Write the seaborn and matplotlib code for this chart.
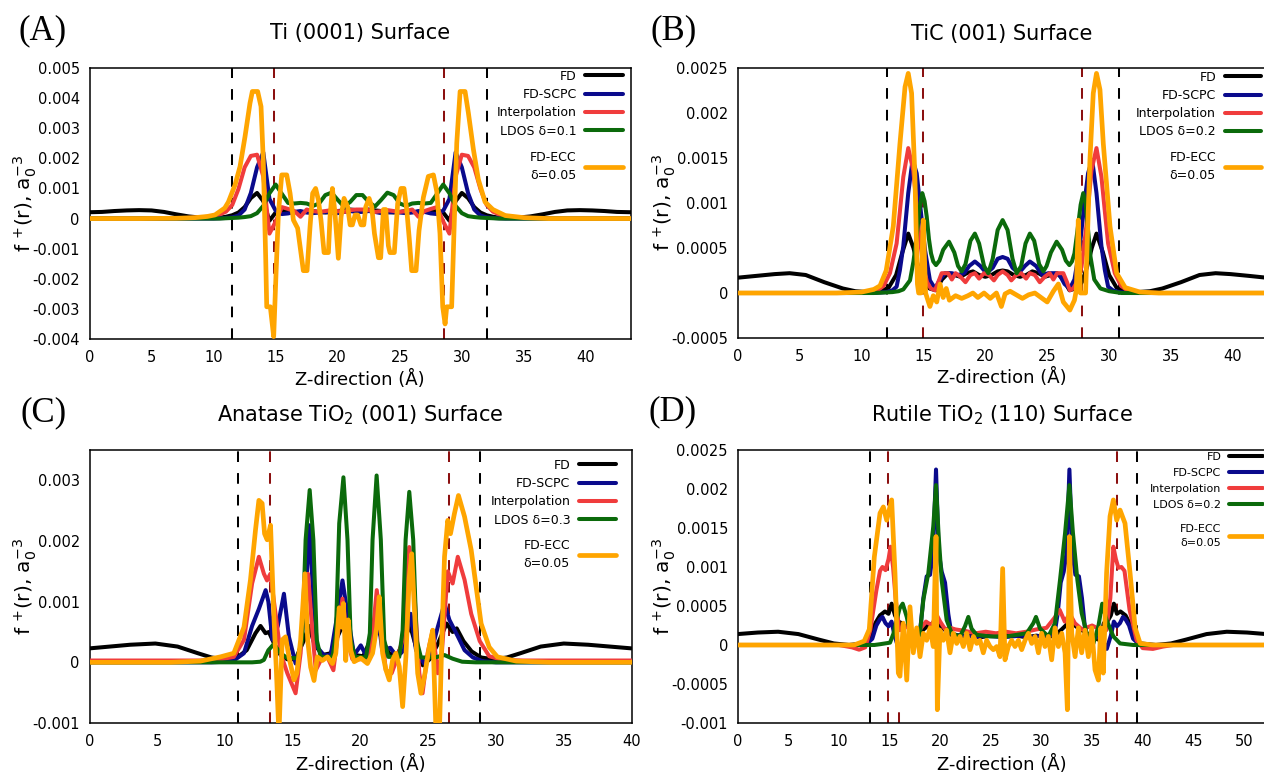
import numpy as np
import matplotlib
matplotlib.use("Agg")
import matplotlib.pyplot as plt
import seaborn as sns
from matplotlib.ticker import FuncFormatter

# ===================== DATA (values in units of 1e-3 a0^-3) =====================
SERIES_NAMES = ["FD", "FD-SCPC", "Interpolation", "LDOS", "FD-ECC"]
ECC_LABEL = "FD-ECC\nδ=0.05"

# ---------- Panel A: Ti (0001) ----------
A_title = "Ti (0001) Surface"
A_ldos_label = "LDOS δ=0.1"
A_grid_z = [0, 1, 2, 3, 4, 5, 6, 7, 8, 9, 9.5,
            10, 10.5, 11, 11.5, 12, 12.5, 13, 13.5, 14, 14.5,
            15, 15.5, 16, 16.5, 17, 17.5, 18, 18.5, 19, 19.5,
            20, 20.5, 21, 21.5, 22, 22.5, 23, 23.5, 24, 24.5,
            25, 25.5, 26, 26.5, 27, 27.5, 28, 28.5, 29, 29.5,
            30, 30.5, 31, 31.5, 32, 32.5, 33, 33.5,
            34, 34.5, 35.5, 36.5, 37.5, 38.5, 39.5, 40.5, 41.5, 42.5, 43.63]
A_fd = [0.21, 0.22, 0.25, 0.27, 0.28, 0.27, 0.22, 0.14, 0.07, 0.03, 0.02,
        0.02, 0.03, 0.06, 0.11, 0.20, 0.38, 0.68, 0.85, 0.58, -0.07,
        0.20, 0.28, 0.26, 0.22, 0.20, 0.22, 0.25, 0.22, 0.20, 0.22,
        0.25, 0.27, 0.30, 0.28, 0.28, 0.30, 0.27, 0.25, 0.22, 0.20,
        0.22, 0.25, 0.22, 0.20, 0.22, 0.26, 0.28, 0.20, -0.07, 0.58,
        0.85, 0.68, 0.38, 0.20, 0.11, 0.06, 0.03, 0.02,
        0.02, 0.03, 0.07, 0.14, 0.22, 0.27, 0.28, 0.27, 0.25, 0.22, 0.21]
A_scpc = [0, 0, 0, 0, 0, 0, 0, 0, 0, 0, 0,
          0.00, 0.01, 0.02, 0.04, 0.10, 0.30, 0.85, 1.70, 2.20, 0.65,
          0.26, 0.15, 0.17, 0.22, 0.25, 0.20, 0.18, 0.20, 0.22, 0.20,
          0.18, 0.22, 0.25, 0.22, 0.22, 0.25, 0.22, 0.18, 0.20, 0.22,
          0.20, 0.18, 0.20, 0.25, 0.22, 0.17, 0.15, 0.26, 0.65, 2.20,
          1.70, 0.85, 0.30, 0.10, 0.04, 0.02, 0.01, 0.00,
          0, 0, 0, 0, 0, 0, 0, 0, 0, 0, 0]
A_interp = [0, 0, 0, 0, 0, 0, 0, 0.01, 0.02, 0.04, 0.06,
            0.09, 0.14, 0.23, 0.45, 0.98, 1.70, 2.08, 2.12, 1.40, -0.50,
            -0.10, 0.38, 0.32, 0.25, 0.06, 0.30, 0.25, 0.22, 0.25, 0.28,
            0.25, 0.22, 0.28, 0.30, 0.30, 0.28, 0.22, 0.25, 0.28, 0.25,
            0.22, 0.25, 0.30, 0.06, 0.25, 0.32, 0.38, -0.10, -0.50, 1.40,
            2.12, 2.08, 1.70, 0.98, 0.45, 0.23, 0.14, 0.09,
            0.06, 0.04, 0.02, 0.01, 0, 0, 0, 0, 0, 0, 0]
A_ldos = [0, 0, 0, 0, 0, 0, 0, 0, 0, 0, 0,
          0.00, 0.00, 0.01, 0.02, 0.03, 0.05, 0.08, 0.18, 0.42, 0.84,
          1.13, 0.82, 0.52, 0.50, 0.52, 0.50, 0.42, 0.50, 0.78, 0.86,
          0.62, 0.40, 0.55, 0.78, 0.78, 0.55, 0.40, 0.62, 0.86, 0.78,
          0.50, 0.42, 0.50, 0.52, 0.50, 0.52, 0.82, 1.13, 0.84, 0.42,
          0.18, 0.08, 0.05, 0.03, 0.02, 0.01, 0.00, 0.00,
          0, 0, 0, 0, 0, 0, 0, 0, 0, 0, 0]
A_ecc_z = [0, 4, 7, 8.5, 9.5, 10.11, 10.9, 11.19, 11.73, 12.13, 12.53, 12.93, 13.12, 13.55, 13.82,
           14.0, 14.2, 14.28, 14.57, 14.84, 15.03, 15.22, 15.49, 15.89, 16.16, 16.43, 16.77, 17.04,
           17.23, 17.53, 17.77, 17.98, 18.22, 18.44, 18.65, 18.9, 19.25, 19.38, 19.57, 19.78, 20.05,
           20.27, 20.51, 20.8, 21.0, 21.18, 21.4, 21.61, 21.88, 22.1, 22.26, 22.53, 22.74, 22.96,
           23.28, 23.46, 23.68, 23.87, 24.08, 24.21, 24.56, 24.83, 25.1, 25.34, 25.56, 25.77, 25.96,
           26.31, 26.55, 26.9, 27.3, 27.71, 27.98, 28.24, 28.46, 28.65, 28.78, 29.18, 29.4, 29.59,
           29.86, 30.26, 30.53, 30.93, 31.33, 31.87, 32.5, 33.5, 35, 37, 43.63]
A_ecc_v = [0, 0.0, 0.01, 0.03, 0.07, 0.12, 0.35, 0.55, 1.12, 1.73, 2.72, 3.83, 4.22, 4.22, 3.72,
           1.95, -1.37, -2.93, -2.93, -3.92, -1.82, 0.17, 1.45, 1.45, 0.84, -0.05, -0.32, -1.15,
           -1.73, -1.73, -0.27, 0.84, 1.0, 0.62, -0.05, -1.13, -1.13, 0.06, 1.0, 0.17, -1.32,
           0.06, 0.67, 0.39, -0.21, -0.21, 0.12, 0.12, -0.21, -0.21, 0.39, 0.67, 0.39, -0.5,
           -1.3, -1.3, 0.3, 0.3, -0.9, -1.13, -1.13, 0.5, 1.0, 1.0, 0.3, -0.7, -1.73,
           -1.73, -0.4, 0.7, 1.4, 1.45, 0.9, -0.5, -2.93, -3.5, -2.93, -2.93, 0.0, 2.5,
           4.22, 4.22, 3.5, 2.3, 1.3, 0.55, 0.3, 0.1, 0.03, 0.0, 0.0]
A_dash_black = [11.5, 32.05]
A_dash_red = [14.87, 28.57]

# ---------- Panel B: TiC (001) ----------
B_title = "TiC (001) Surface"
B_ldos_label = "LDOS δ=0.2"
B_fd_z = [0, 1.5, 3, 4.2, 5.5, 7, 8.5, 9.5, 10.5, 11.5, 12.2, 12.8, 13.3, 13.78, 14.2, 14.6, 15.0,
          15.5, 16.0, 16.5, 17.0, 17.5, 18.0, 18.5, 19.0, 19.5, 20.0, 20.5, 21.0, 21.4, 21.8, 22.3,
          22.8, 23.3, 23.8, 24.3, 24.8, 25.3, 25.8, 26.3, 26.8, 27.3, 27.8, 28.2, 28.6, 28.98, 29.5,
          30.0, 30.6, 31.3, 32.3, 33.3, 34.3, 35.8, 37.3, 38.6, 39.8, 41.3, 42.7]
B_fd_v = [0.17, 0.19, 0.21, 0.22, 0.2, 0.12, 0.05, 0.02, 0.01, 0.02, 0.06, 0.2, 0.45, 0.66, 0.5, 0.28, 0.12,
          0.05, 0.03, 0.15, 0.22, 0.2, 0.18, 0.22, 0.24, 0.2, 0.18, 0.2, 0.24, 0.25, 0.24, 0.2,
          0.18, 0.2, 0.24, 0.22, 0.18, 0.2, 0.22, 0.15, 0.03, 0.05, 0.12, 0.28, 0.5, 0.66, 0.45,
          0.2, 0.06, 0.02, 0.01, 0.02, 0.05, 0.12, 0.2, 0.22, 0.21, 0.19, 0.17]
B_scpc_z = [0, 11, 12.0, 12.5, 12.84, 13.1, 13.38, 13.78, 14.13, 14.46, 14.73, 15.13, 15.53, 15.94, 16.35,
            16.74, 17.3, 17.8, 18.3, 18.7, 19.16, 19.6, 20.1, 20.6, 21.0, 21.4, 21.8, 22.2, 22.7, 23.2,
            23.6, 24.1, 24.6, 25.1, 25.6, 26.0, 26.4, 26.83, 27.2, 27.6, 28.0, 28.3, 28.63, 28.98,
            29.38, 29.66, 29.92, 30.3, 30.8, 31.8, 42.7]
B_scpc_v = [0, 0.0, 0.01, 0.03, 0.07, 0.25, 0.52, 1.11, 1.48, 1.33, 0.99, 0.48, 0.14, 0.05, 0.15,
            0.22, 0.22, 0.2, 0.22, 0.3, 0.35, 0.3, 0.22, 0.28, 0.38, 0.4, 0.38, 0.28, 0.22, 0.3,
            0.35, 0.3, 0.2, 0.22, 0.22, 0.2, 0.1, 0.05, 0.15, 0.48, 0.99, 1.33, 1.48, 1.11,
            0.52, 0.25, 0.07, 0.03, 0.01, 0.0, 0]
B_interp_z = [0, 9, 10.5, 11.3, 11.8, 12.3, 12.84, 13.1, 13.38, 13.78, 14.19, 14.6, 14.99, 15.3, 15.6,
              15.94, 16.2, 16.48, 17.0, 17.3, 17.6, 18.0, 18.4, 18.8, 19.16, 19.5, 19.9, 20.3, 20.7,
              21.0, 21.4, 21.8, 22.1, 22.5, 22.9, 23.3, 23.6, 24.0, 24.4, 24.8, 25.2, 25.5, 25.8,
              26.3, 26.6, 26.83, 27.1, 27.4, 27.77, 28.16, 28.57, 28.98, 29.38, 29.66, 29.92, 30.46,
              30.96, 31.46, 32.3, 34, 42.7]
B_interp_v = [0, 0.0, 0.01, 0.03, 0.08, 0.22, 0.55, 0.9, 1.29, 1.61, 1.36, 0.74, 0.29, 0.12, 0.05,
              0.03, 0.12, 0.22, 0.22, 0.15, 0.22, 0.18, 0.12, 0.2, 0.22, 0.16, 0.22, 0.2, 0.14,
              0.2, 0.24, 0.2, 0.14, 0.2, 0.22, 0.16, 0.22, 0.2, 0.12, 0.18, 0.22, 0.15, 0.22,
              0.22, 0.12, 0.03, 0.05, 0.12, 0.29, 0.74, 1.36, 1.61, 1.29, 0.9, 0.55, 0.22,
              0.08, 0.03, 0.01, 0.0, 0]
B_ldos_z = [0, 11, 12.5, 13.0, 13.38, 13.92, 14.2, 14.46, 14.7, 14.91, 15.1, 15.27, 15.45, 15.62, 15.8,
            16.02, 16.3, 16.6, 17.07, 17.5, 17.8, 18.09, 18.4, 18.8, 19.16, 19.5, 19.9, 20.24, 20.6,
            21.0, 21.4, 21.8, 22.2, 22.53, 22.9, 23.25, 23.6, 23.95, 24.35, 24.69, 24.95, 25.3,
            25.76, 26.2, 26.5, 26.79, 27.0, 27.2, 27.45, 27.7, 27.91, 28.1, 28.3, 28.5, 28.8, 29.3,
            30, 31, 42.7]
B_ldos_v = [0, 0.0, 0.01, 0.02, 0.04, 0.14, 0.35, 0.63, 0.95, 1.11, 1.02, 0.85, 0.6, 0.44, 0.35,
            0.31, 0.36, 0.48, 0.57, 0.45, 0.3, 0.24, 0.32, 0.58, 0.66, 0.55, 0.3, 0.22, 0.38,
            0.7, 0.81, 0.7, 0.38, 0.22, 0.3, 0.55, 0.66, 0.58, 0.32, 0.24, 0.3, 0.45,
            0.57, 0.48, 0.36, 0.31, 0.35, 0.44, 0.7, 0.98, 1.11, 1.0, 0.7, 0.4, 0.15, 0.05,
            0.02, 0.0, 0]
B_ecc_z = [0, 8, 10.0, 11.0, 11.5, 12.0, 12.57, 13.11, 13.52, 13.78, 14.05, 14.32, 14.52, 14.62, 14.8,
           14.99, 15.18, 15.53, 15.8, 16.08, 16.35, 16.6, 16.85, 17.1, 17.6, 18.1, 18.6, 19.0, 19.4,
           19.9, 20.4, 20.9, 21.3, 21.6, 22.0, 22.5, 23.0, 23.5, 24.0, 24.5, 25.0, 25.5, 25.9, 26.3,
           26.83, 27.2, 27.35, 27.51, 27.68, 28.1, 28.45, 28.72, 28.98, 29.26, 29.53, 30.07, 30.61,
           31.3, 32.5, 34, 42.7]
B_ecc_v = [0, 0.0, 0.01, 0.04, 0.08, 0.25, 0.74, 1.66, 2.29, 2.44, 2.22, 1.29, 0.1, 0.0, 0.0,
           0.81, 0.0, -0.15, -0.03, -0.1, 0.1, -0.05, 0.05, -0.08, -0.03, -0.06, -0.03, 0.0, -0.05,
           0.0, -0.06, 0.0, -0.15, -0.01, 0.02, -0.02, -0.06, -0.02, 0.0, -0.05, -0.1, 0.02, 0.1, -0.1,
           -0.19, -0.08, 0.03, 0.81, 0.0, 0.0, 1.48, 2.22, 2.44, 2.26, 1.66, 0.74, 0.22,
           0.06, 0.01, 0.0, 0.0]
B_dash_black = [12.04, 30.8]
B_dash_red = [14.99, 27.83]

# ---------- Panel C: Anatase TiO2 (001) ----------
C_title = "Anatase TiO$_2$ (001) Surface"
C_ldos_label = "LDOS δ=0.3"
C_fd_z = [0, 1.5, 3, 4.86, 6.5, 8.0, 9.0, 10.0, 10.9, 11.6, 12.25, 12.62, 12.99, 13.24, 13.6, 14.1,
          14.6, 15.2, 15.8, 16.2, 16.6, 17.2, 17.8, 18.3, 18.7, 19.1, 19.6, 20.2, 20.7, 21.15, 21.6,
          22.1, 22.7, 23.2, 23.65, 24.1, 24.6, 25.1, 25.7, 26.35, 26.8, 27.1, 27.6, 28.2, 28.9,
          29.8, 30.8, 31.8, 33.3, 35.0, 36.8, 38.4, 40]
C_fd_v = [0.23, 0.26, 0.29, 0.31, 0.26, 0.15, 0.08, 0.05, 0.08, 0.2, 0.48, 0.6, 0.48, 0.5, 0.32, 0.12,
          0.05, 0.05, 0.35, 0.6, 0.3, 0.12, 0.15, 0.42, 0.62, 0.35, 0.12, 0.1, 0.35, 0.62, 0.38,
          0.15, 0.12, 0.35, 0.62, 0.25, -0.05, 0.05, 0.3, 0.64, 0.5, 0.56, 0.35, 0.18, 0.08,
          0.05, 0.08, 0.15, 0.26, 0.31, 0.29, 0.26, 0.23]
C_scpc_z = [0, 9, 10.0, 10.65, 11.4, 12.0, 12.5, 13.0, 13.2, 13.5, 13.9, 14.35, 14.72, 15.21, 15.58,
            15.95, 16.25, 16.5, 16.8, 17.3, 17.8, 18.3, 18.67, 19.04, 19.53, 20.02, 20.4, 20.89, 21.2,
            21.6, 22.2, 22.7, 23.2, 23.7, 24.1, 24.7, 25.2, 25.7, 26.2, 26.56, 27.2, 27.68, 28.3,
            29.0, 30, 40]
C_scpc_v = [0, 0.0, 0.01, 0.03, 0.15, 0.6, 0.88, 1.19, 1.0, 0.37, 0.6, 1.13, 0.42, -0.02, 0.25,
            1.1, 2.26, 1.1, 0.25, 0.12, 0.12, 0.8, 1.35, 0.8, 0.12, 0.28, 0.12, 0.2, 0.92,
            0.2, 0.24, 0.09, 0.2, 0.8, 0.2, -0.02, 0.15, 0.58, 0.97, 0.7, 0.42, 0.2, 0.08,
            0.02, 0.0, 0]
C_interp_z = [0, 8.2, 9.66, 10.65, 11.4, 12.0, 12.5, 12.87, 13.1, 13.35, 13.73, 14.1, 14.6, 15.21,
              15.58, 15.95, 16.13, 16.45, 16.7, 17.1, 17.55, 18.0, 18.35, 18.67, 19.0, 19.4, 20.0,
              20.64, 20.95, 21.2, 21.5, 21.87, 22.3, 22.74, 23.1, 23.6, 23.97, 24.34, 24.58, 24.95,
              25.33, 25.7, 26.0, 26.44, 26.8, 27.18, 27.68, 28.17, 28.8, 29.5, 30.5, 32, 40]
C_interp_v = [0.03, 0.03, 0.05, 0.09, 0.37, 1.3, 1.74, 1.46, 1.35, 1.46, 0.8, 0.15, -0.18, -0.51,
              0.15, 1.35, 1.46, 0.5, -0.13, 0.05, 0.09, -0.13, 0.5, 1.05, 0.4, 0.05, 0.05,
              0.09, 0.6, 1.19, 0.6, -0.13, -0.18, 0.09, 0.37, 1.9, 1.19, -0.18, -0.51, 0.15,
              0.53, -0.18, 0.15, 1.5, 1.3, 1.74, 1.36, 0.8, 0.35, 0.1, 0.04, 0.03, 0.03]
C_ldos_z = [0, 12.0, 12.6, 12.87, 13.2, 13.6, 14.1, 14.6, 15.33, 15.7, 15.95, 16.25, 16.52, 16.77,
            17.06, 17.93, 18.18, 18.43, 18.74, 19.04, 19.28, 19.58, 20.4, 20.69, 20.89, 21.19, 21.5,
            21.75, 22.05, 22.86, 23.11, 23.33, 23.6, 23.89, 24.14, 24.46, 25.5, 26.2, 26.8, 27.5,
            28.5, 40]
C_ldos_v = [0, 0.0, 0.01, 0.04, 0.2, 0.3, 0.15, 0.07, 0.07, 0.37, 2.02, 2.84, 2.02, 0.37,
            0.09, 0.09, 0.45, 2.29, 3.05, 2.02, 0.37, 0.09, 0.08, 0.48, 2.02, 3.08, 2.02,
            0.37, 0.09, 0.09, 0.53, 2.02, 2.81, 2.02, 0.37, 0.08, 0.08, 0.12, 0.06, 0.01,
            0.0, 0]
C_ecc_z = [0, 6, 8.18, 9.66, 10.65, 11.4, 11.88, 12.25, 12.5, 12.74, 12.92, 13.11, 13.36, 13.6, 13.8,
           13.98, 14.22, 14.47, 14.72, 15.09, 15.3, 15.58, 15.9, 16.1, 16.32, 16.57, 16.81, 17.19,
           17.56, 17.93, 18.18, 18.43, 18.6, 18.74, 18.91, 19.09, 19.28, 19.53, 20.02, 20.51, 20.89,
           21.2, 21.38, 21.63, 21.87, 22.12, 22.37, 22.61, 22.86, 23.11, 23.35, 23.6, 23.78, 23.97,
           24.22, 24.46, 24.76, 25.08, 25.33, 25.58, 25.82, 26.0, 26.2, 26.44, 26.64, 26.93, 27.23,
           27.68, 28.17, 28.9, 29.5, 30.1, 31.5, 34, 40]
C_ecc_v = [0, 0.0, 0.02, 0.09, 0.15, 0.58, 1.36, 2.18, 2.67, 2.62, 2.12, 2.02, 2.26, 0.8, -0.18,
           -1.2, 0.37, 0.42, 0.09, -0.29, -0.18, 0.37, 1.46, 0.37, -0.08, -0.3, 0.09, 0.03,
           0.09, -0.02, 0.15, 0.9, 0.58, 0.97, 0.03, 0.7, 0.2, 0.01, 0.07, -0.02, 0.15,
           0.58, 1.08, 0.15, -0.12, -0.29, 0.04, 0.15, -0.07, -0.73, 0.09, 1.4, 1.79, 0.92,
           -0.18, -0.51, -0.18, 0.26, 0.53, -1.2, -1.2, 0.37, 1.74, 2.34, 2.12, 2.45, 2.75,
           2.4, 1.85, 0.64, 0.25, 0.09, 0.02, 0.0, 0.0]
C_dash_black = [10.94, 28.83]
C_dash_red = [13.31, 26.56]

# ---------- Panel D: Rutile TiO2 (110) ----------
D_title = "Rutile TiO$_2$ (110) Surface"
D_ldos_label = "LDOS δ=0.2"
D_fd_z = [0, 2, 4, 6, 8, 9.5, 11, 12.5, 13.1, 13.6, 14.06, 14.55, 14.9, 15.21, 15.54, 15.87, 16.2,
          16.53, 16.9, 17.5, 18.2, 18.8, 19.6, 20.4, 21.2, 22.0, 23, 24, 25, 26.2, 27.5, 28.5, 29.5,
          30.5, 31.3, 32.0, 32.8, 33.6, 34.5, 35.4, 35.8, 36.15, 36.5, 36.85, 37.15, 37.45, 37.8,
          38.3, 38.7, 39.2, 39.8, 41.3, 42.8, 44.3, 46.3, 48.3, 50.3, 52.2]
D_fd_v = [0.14, 0.16, 0.17, 0.14, 0.07, 0.02, 0.0, 0.02, 0.1, 0.28, 0.38, 0.43, 0.4, 0.53, 0.38, 0.3, 0.28,
          0.06, 0.1, 0.15, 0.18, 0.25, 0.3, 0.2, 0.12, 0.1, 0.12, 0.1, 0.12, 0.14, 0.12, 0.1, 0.12,
          0.1, 0.12, 0.2, 0.3, 0.22, 0.15, 0.08, 0.06, 0.28, 0.3, 0.38, 0.53, 0.4, 0.43,
          0.38, 0.28, 0.1, 0.02, 0.0, 0.02, 0.07, 0.14, 0.17, 0.16, 0.14]
D_scpc_z = [0, 12.0, 12.8, 13.3, 13.7, 14.06, 14.3, 14.6, 14.9, 15.2, 15.5, 15.9, 16.3, 16.7, 17.35,
            18.0, 18.34, 18.67, 19.0, 19.3, 19.59, 19.85, 20.15, 20.48, 20.8, 21.1, 21.5, 22.5, 23.5,
            24.5, 26.2, 28, 29, 30, 31, 31.3, 31.6, 31.9, 32.2, 32.5, 32.76, 33.05, 33.35, 33.7,
            34.0, 34.35, 35.0, 35.7, 36.1, 36.45, 36.85, 37.15, 37.45, 37.75, 38.05, 38.3, 38.65,
            39.05, 39.55, 40.3, 52.2]
D_scpc_v = [0, 0.0, 0.02, 0.08, 0.25, 0.33, 0.36, 0.28, 0.24, 0.3, 0.12, -0.05, 0.05, 0.1, 0.1,
            0.15, 0.6, 0.88, 0.9, 1.2, 2.25, 1.2, 0.94, 0.8, 0.4, 0.15, 0.13, 0.12, 0.1,
            0.12, 0.1, 0.12, 0.1, 0.12, 0.13, 0.15, 0.4, 0.8, 0.94, 1.2, 2.25, 1.2, 0.9, 0.88,
            0.6, 0.15, 0.1, 0.1, 0.05, -0.05, 0.12, 0.3, 0.24, 0.28, 0.36, 0.33, 0.25,
            0.08, 0.02, 0.0, 0]
D_interp_z = [0, 10, 11.3, 12.0, 12.6, 13.1, 13.7, 14.06, 14.3, 14.6, 14.9, 15.1, 15.35, 15.6, 15.96,
              16.3, 16.7, 17.3, 18.0, 18.6, 19.2, 19.6, 20.0, 20.5, 21.0, 21.5, 22.5, 23.5, 24.5,
              25.5, 26.5, 27.5, 28.5, 29.5, 30.5, 31.3, 31.8, 32.3, 32.8, 33.3, 34, 35, 35.8, 36.4,
              36.8, 37.1, 37.35, 37.6, 37.9, 38.2, 38.7, 39.4, 40.0, 41.0, 42.0, 43, 52.2]
D_interp_v = [0, 0.0, -0.03, -0.06, -0.03, 0.19, 0.7, 0.95, 1.0, 0.96, 1.1, 1.26, 1.0, 0.6, 0.19,
              0.2, 0.25, 0.12, 0.2, 0.3, 0.25, 0.4, 0.3, 0.2, 0.22, 0.2, 0.18, 0.15, 0.17,
              0.15, 0.17, 0.15, 0.17, 0.2, 0.22, 0.35, 0.45, 0.3, 0.4, 0.28, 0.2, 0.25, 0.2, 0.19,
              0.6, 1.26, 1.1, 0.99, 1.0, 0.95, 0.45, 0.06, -0.04, -0.05, -0.02, 0.0, 0]
D_ldos_z = [0, 13.5, 14.06, 15.05, 15.4, 15.7, 16.0, 16.3, 16.7, 17.19, 17.6, 18.0, 18.34, 18.83,
            19.32, 19.59, 19.85, 20.15, 20.64, 21.14, 21.96, 22.45, 22.78, 23.1, 23.6, 24.92, 26.57,
            28.54, 29.2, 29.46, 29.86, 30.68, 31.34, 31.83, 32.33, 32.76, 33.1, 33.55, 33.97, 34.47,
            35.13, 35.62, 36.0, 36.43, 37.1, 37.76, 39.07, 52.2]
D_ldos_v = [0, 0.0, 0.01, 0.03, 0.15, 0.32, 0.47, 0.53, 0.36, 0.06, 0.02, 0.15, 0.58, 0.92,
            1.52, 2.05, 1.4, 0.83, 0.32, 0.15, 0.11, 0.24, 0.36, 0.21, 0.13, 0.11, 0.11,
            0.15, 0.28, 0.36, 0.21, 0.11, 0.28, 0.83, 1.43, 2.05, 1.45, 0.83, 0.41, 0.15,
            0.02, 0.24, 0.53, 0.32, 0.11, 0.02, 0.0, 0]
D_ecc_z = [0, 11.5, 12.5, 13.0, 13.5, 14.06, 14.39, 14.72, 15.21, 15.54, 15.87, 16.03, 16.36, 16.7,
           17.02, 17.35, 17.68, 18.01, 18.34, 18.67, 19.0, 19.32, 19.59, 19.72, 19.98, 20.31, 20.64,
           20.97, 21.3, 21.63, 21.96, 22.29, 22.62, 22.95, 23.28, 23.61, 23.93, 24.26, 24.59, 24.92,
           25.25, 25.58, 25.91, 26.17, 26.4, 26.73, 27.06, 27.39, 27.72, 28.05, 28.38, 28.71, 29.04,
           29.37, 29.7, 30.02, 30.35, 30.68, 31.01, 31.34, 31.67, 32.0, 32.33, 32.56, 32.76, 32.99,
           33.32, 33.65, 33.97, 34.3, 34.63, 34.96, 35.29, 35.62, 35.85, 36.1, 36.43, 36.77, 37.1,
           37.43, 37.76, 38.25, 38.75, 39.25, 39.74, 41, 52.2]
D_ecc_v = [0, 0.0, 0.05, 0.2, 1.13, 1.69, 1.77, 1.6, 1.86, 0.92, -0.36, -0.4, 0.28, -0.45,
           0.49, -0.1, 0.22, -0.15, 0.15, 0.06, 0.22, -0.02, 1.39, -0.83, 0.19, 0.06, 0.19,
           -0.1, 0.15, 0.02, 0.11, -0.02, 0.15, -0.06, 0.11, 0.02, 0.06, -0.1, 0.06, -0.02,
           -0.06, -0.02, -0.15, 0.98, -0.19, -0.02, 0.06, -0.02, 0.06, -0.06, 0.06, 0.15, 0.02,
           0.11, -0.1, 0.15, -0.02, 0.11, -0.19, 0.22, -0.02, 0.15, -0.1, -0.83, 1.39, 0.15,
           -0.15, 0.22, -0.1, 0.19, -0.15, 0.22, -0.32, -0.45, 0.22, -0.36, 0.92, 1.65, 1.86,
           1.6, 1.73, 1.56, 0.92, 0.22, 0.02, 0.0, 0.0]
D_dash_black = [13.06, 39.4]
D_dash_red = [14.88, 37.43]
D_dash_red_short = [15.97, 36.37]

# ===================== STYLE =====================
sns.set_theme(style="white")
plt.rcParams["font.family"] = ["DejaVu Sans"]
plt.rcParams["mathtext.fontset"] = "dejavusans"
for k in ["text.color", "axes.labelcolor", "xtick.color", "ytick.color", "axes.edgecolor"]:
    plt.rcParams[k] = "black"

COLORS = ["#000000", "#0a0a8c", "#f03c3c", "#0b6a0b", "#ffa500"]
WIDTHS = [2.9, 2.9, 2.9, 2.9, 3.4]
DASH_BLACK = "#000000"
DASH_RED = "#8b1010"

W, H = 1264, 775
fig = plt.figure(figsize=(W / 100, H / 100), dpi=100)


def axes_px(l, t, r, b):
    return fig.add_axes([l / W, 1 - b / H, (r - l) / W, (b - t) / H])


def draw_panel(rect, z_list, v_list, ldos_label, dash_black, dash_red, xlim, ylim, xticks, yticks,
               title, title_y, xlab_y, ylab_x, leg, short_red=()):
    ax = axes_px(*rect)
    ls = (0, (5.3, 5.5))
    for z in dash_black:
        ax.axvline(z, color=DASH_BLACK, lw=1.45, ls=ls, zorder=1)
    for z in dash_red:
        ax.axvline(z, color=DASH_RED, lw=1.45, ls=ls, zorder=1)
    for z in short_red:
        ax.axvline(z, ymin=0, ymax=0.035, color=DASH_RED, lw=1.45, zorder=1)
    labels = ["FD", "FD-SCPC", "Interpolation", ldos_label, ECC_LABEL]
    for i in range(5):
        sns.lineplot(x=np.asarray(z_list[i], float), y=np.asarray(v_list[i], float) * 1e-3, ax=ax,
                     color=COLORS[i], linewidth=WIDTHS[i], label=labels[i], estimator=None,
                     sort=False, legend=False, zorder=3 + i)
    ax.set_xlim(*xlim)
    ax.set_ylim(*ylim)
    ax.set_xticks(xticks)
    ax.set_yticks(yticks)
    ax.yaxis.set_major_formatter(FuncFormatter(lambda v, p: "%g" % round(v, 7)))
    ax.tick_params(axis="both", direction="in", length=6, width=1.0, labelsize=10.5,
                   top=False, right=False)
    ax.tick_params(axis="x", pad=8)
    ax.tick_params(axis="y", pad=7)
    for s in ax.spines.values():
        s.set_linewidth(1.1)
        s.set_color("black")
    ax.set_xlabel("Z-direction (Å)", fontsize=13)
    ax.xaxis.label.set_va("baseline")
    ax.xaxis.set_label_coords(0.5, xlab_y)
    ax.set_ylabel(r"f $^{+}$(r), a$_{0}^{-3}$", fontsize=14.5)
    ax.yaxis.label.set_va("baseline")
    ax.yaxis.set_label_coords(ylab_x, 0.5)
    ax.text(0.5, title_y, title, transform=ax.transAxes, ha="center", va="baseline", fontsize=15)

    h, l = ax.get_legend_handles_labels()
    common = dict(loc="upper right", bbox_transform=ax.transAxes, markerfirst=False, frameon=False,
                  fontsize=leg["fs"], handlelength=leg["hl"], handletextpad=0.7,
                  labelspacing=leg["ls"], borderpad=0, borderaxespad=0)
    leg1 = ax.legend(h[:4], l[:4], bbox_to_anchor=(leg["x"], leg["y1"]), **common)
    ax.add_artist(leg1)
    leg2 = ax.legend(h[4:], l[4:], bbox_to_anchor=(leg["x"], leg["y2"]), **common)
    for t in leg2.get_texts():
        t.set_multialignment("center")
        t.set_linespacing(1.5)
    return ax


yA = [-0.004, -0.003, -0.002, -0.001, 0, 0.001, 0.002, 0.003, 0.004, 0.005]
yB = [-0.0005, 0, 0.0005, 0.001, 0.0015, 0.002, 0.0025]
yC = [-0.001, 0, 0.001, 0.002, 0.003]
yD = [-0.001, -0.0005, 0, 0.0005, 0.001, 0.0015, 0.002, 0.0025]

draw_panel((89.5, 68, 631, 339),
           [A_grid_z, A_grid_z, A_grid_z, A_grid_z, A_ecc_z],
           [A_fd, A_scpc, A_interp, A_ldos, A_ecc_v], A_ldos_label,
           A_dash_black, A_dash_red, (0, 43.63), (-0.004, 0.005), list(range(0, 41, 5)), yA,
           A_title, 1.107, -0.170, -0.107,
           dict(fs=9, hl=3.0, ls=0.42, x=0.985, y1=0.9935, y2=0.694))

draw_panel((737.6, 68, 1266.4, 338),
           [B_fd_z, B_scpc_z, B_interp_z, B_ldos_z, B_ecc_z],
           [B_fd_v, B_scpc_v, B_interp_v, B_ldos_v, B_ecc_v], B_ldos_label,
           B_dash_black, B_dash_red, (0, 42.7), (-0.0005, 0.0025), list(range(0, 41, 5)), yB,
           B_title, 1.104, -0.167, -0.128,
           dict(fs=9, hl=2.9, ls=0.42, x=0.990, y1=0.990, y2=0.694))

draw_panel((89.5, 450, 631.5, 723),
           [C_fd_z, C_scpc_z, C_interp_z, C_ldos_z, C_ecc_z],
           [C_fd_v, C_scpc_v, C_interp_v, C_ldos_v, C_ecc_v], C_ldos_label,
           C_dash_black, C_dash_red, (0, 40), (-0.001, 0.0035), list(range(0, 41, 5)), yC,
           C_title, 1.104, -0.172, -0.107,
           dict(fs=9, hl=2.95, ls=0.43, x=0.971, y1=0.968, y2=0.674))

draw_panel((737.6, 450, 1266.3, 723),
           [D_fd_z, D_scpc_z, D_interp_z, D_ldos_z, D_ecc_z],
           [D_fd_v, D_scpc_v, D_interp_v, D_ldos_v, D_ecc_v], D_ldos_label,
           D_dash_black, D_dash_red, (0, 52.2), (-0.001, 0.0025), list(range(0, 51, 5)), yD,
           D_title, 1.104, -0.172, -0.128,
           dict(fs=8, hl=3.05, ls=0.53, x=0.994, y1=0.993, y2=0.730),
           short_red=D_dash_red_short)

PANEL_TAGS = ["(A)", "(B)", "(C)", "(D)"]
TAG_POS = [(18, 39), (650, 39), (20, 421), (648, 420)]
for tag, (px, py) in zip(PANEL_TAGS, TAG_POS):
    fig.text(px / W, 1 - py / H, tag, ha="left", va="baseline", fontsize=25,
             family=["Liberation Serif", "DejaVu Serif"])

fig.savefig("out.png", dpi=100)
